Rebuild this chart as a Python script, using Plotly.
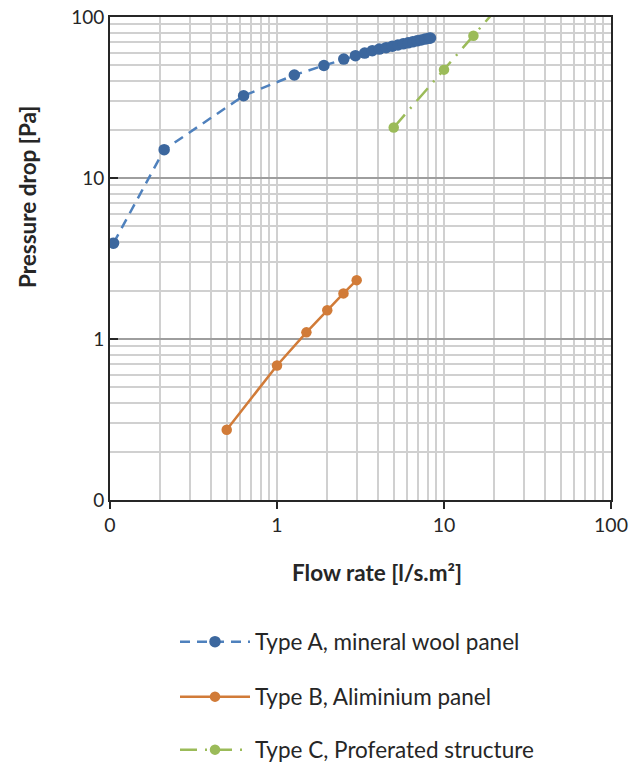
import plotly.graph_objects as go

# Type A, mineral wool panel
a_flow = [0.105, 0.211, 0.631, 1.27, 1.91, 2.51, 2.95, 3.35, 3.72, 4.1, 4.5, 4.9, 5.3,
          5.7, 6.1, 6.5, 6.9, 7.3, 7.7, 8.1, 8.3]
a_dp = [3.94, 15.0, 32.4, 43.6, 50.0, 54.8, 57.5, 59.7, 61.8, 63.2, 64.5, 65.8, 67.0,
        68.1, 69.1, 70.1, 71.1, 72.0, 72.9, 73.7, 74.1]

# Type B, Aliminium panel
b_flow = [0.5, 1.0, 1.5, 2.0, 2.5, 3.0]
b_dp = [0.273, 0.685, 1.10, 1.51, 1.92, 2.32]

# Type C, Proferated structure
c_flow = [5.0, 10.0, 15.0, 20.0]
c_dp = [20.6, 47.1, 76.5, 108.0]

tick_vals = [0.1, 1, 10, 100]
tick_text = ["0", "1", "10", "100"]

FONT = "Lato"
TXT = "#262626"
OFF = 8  # default page body margin
W, H = 639 - OFF, 762 - OFF
L, T = 110 - OFF, 17 - OFF
R = W - (611 - OFF)
B = H - (500 - OFF)
PW, PH = W - L - R, H - T - B


def px_x(px):
    return (px - OFF - L) / PW


def px_y(py):
    return (H - B - (py - OFF)) / PH


fig = go.Figure()
fig.add_trace(go.Scatter(
    x=a_flow, y=a_dp, mode="lines+markers", name="Type A, mineral wool panel",
    line=dict(color="#4F81BD", width=2.5, dash="10px,7px"),
    marker=dict(color="#3C679E", size=11.5),
    legend="legend"))
fig.add_trace(go.Scatter(
    x=b_flow, y=b_dp, mode="lines+markers", name="Type B, Aliminium panel",
    line=dict(color="#D17B38", width=2.5),
    marker=dict(color="#D17B38", size=10.5),
    legend="legend2"))
fig.add_trace(go.Scatter(
    x=c_flow, y=c_dp, mode="lines+markers", name="Type C, Proferated structure",
    line=dict(color="#9BBB59", width=2.5, dash="17px,8px,2px,8px"),
    marker=dict(color="#9BBB59", size=10.5),
    legend="legend3"))


def leg(center_px):
    return dict(x=px_x(175), xref="paper", xanchor="left",
                y=px_y(center_px), yref="paper", yanchor="middle",
                itemwidth=70, bgcolor="rgba(0,0,0,0)",
                font=dict(family=FONT, size=22.5, color=TXT))


fig.update_layout(
    width=W, height=H,
    margin=dict(l=L, r=R, t=T, b=B, autoexpand=False),
    paper_bgcolor="white", plot_bgcolor="white",
    font=dict(family=FONT, size=19, color=TXT),
    showlegend=True,
    legend=leg(642), legend2=leg(697), legend3=leg(750),
    annotations=[
        dict(text="<b>Pressure drop [Pa]</b>", textangle=-90, showarrow=False,
             xref="paper", yref="paper", x=px_x(27), y=px_y(197),
             xanchor="center", yanchor="middle",
             font=dict(family=FONT, size=22.5, color=TXT)),
        dict(text="<b>Flow rate [l/s.m²]</b>", showarrow=False,
             xref="paper", yref="paper", x=px_x(377), y=px_y(572),
             xanchor="center", yanchor="middle",
             font=dict(family=FONT, size=22.5, color=TXT)),
    ],
)
fig.update_xaxes(
    type="log", range=[-1, 2], automargin=False, ticklabeloverflow="allow",
    tickvals=tick_vals, ticktext=tick_text,
    ticks="outside", ticklen=7, tickcolor="#262626", tickwidth=1.5,
    showline=True, linecolor="#262626", linewidth=2, mirror=True,
    showgrid=True, gridcolor="#D0D0D0", gridwidth=1.5,
    minor=dict(dtick="D1", showgrid=True, gridcolor="#D0D0D0", gridwidth=1.5, ticks=""),
    zeroline=False,
    tickfont=dict(family=FONT, size=19.5, color=TXT),
)
fig.update_yaxes(
    type="log", range=[-1, 2], automargin=False, ticklabeloverflow="allow",
    tickvals=tick_vals, ticktext=tick_text,
    ticks="inside", ticklen=8, tickcolor="#262626", tickwidth=1.5,
    showline=True, linecolor="#262626", linewidth=2, mirror=True,
    showgrid=True, gridcolor="#9E9E9E", gridwidth=1.5,
    minor=dict(dtick="D1", showgrid=True, gridcolor="#D0D0D0", gridwidth=1.5, ticks=""),
    zeroline=False,
    tickfont=dict(family=FONT, size=19, color=TXT),
)

fig.write_html("out.html")
